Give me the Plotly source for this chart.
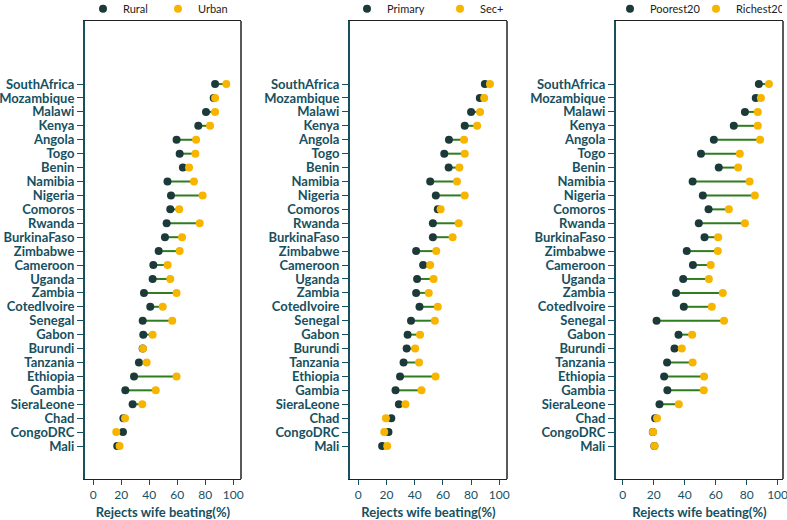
import plotly.graph_objects as go

countries = ["SouthAfrica", "Mozambique", "Malawi", "Kenya", "Angola", "Togo", "Benin",
             "Namibia", "Nigeria", "Comoros", "Rwanda", "BurkinaFaso", "Zimbabwe",
             "Cameroon", "Uganda", "Zambia", "CotedIvoire", "Senegal", "Gabon", "Burundi",
             "Tanzania", "Ethiopia", "Gambia", "SieraLeone", "Chad", "CongoDRC", "Mali"]

rural = [87, 86, 80.5, 75, 59.5, 61.7, 64, 53, 55.5, 55, 52.4, 51.2, 46.7, 42.9, 42.4,
         36.2, 40.7, 35.3, 35.7, 35.3, 32.6, 29.1, 22.9, 28.1, 21.5, 21.2, 17.1]
urban = [95, 87, 87, 83.4, 73.4, 72.9, 68.4, 71.9, 78.1, 61.4, 76, 63.4, 61.7, 53.1, 55,
         59.5, 49.6, 56.4, 42.4, 35.5, 38.1, 59.5, 44.6, 35, 22.7, 16.4, 18.8]

primary = [89.8, 86.2, 80, 75.5, 64.3, 61, 64.1, 51, 55, 56.4, 52.9, 52.9, 41, 46, 41.7,
           41, 43.4, 37.4, 35, 34.3, 32.1, 29.6, 26.4, 28.8, 23.4, 21.4, 16.9]
secplus = [93.4, 89.3, 86.4, 84.3, 75, 75.5, 71.7, 70, 75.5, 58.4, 71.2, 66.9, 55.3, 51,
           53.4, 50, 56.4, 54.3, 43.8, 40.3, 43.1, 54.8, 44.8, 33.4, 19.6, 18.4, 20.5]

poorest20 = [87.9, 85.9, 78.9, 71.7, 58.8, 50.5, 62.0, 45.1, 51.7, 55.4, 49.1, 52.8, 41.3,
             45.3, 39.0, 34.4, 39.4, 21.8, 36.0, 33.4, 28.6, 26.7, 28.8, 23.7, 20.9, 19.4, 20.4]
richest20 = [94.4, 89.2, 87.2, 87.2, 88.7, 75.6, 74.5, 81.9, 85.3, 68.5, 78.9, 61.6, 61.4,
             56.8, 55.6, 64.6, 57.5, 65.4, 44.8, 38.1, 45.1, 52.5, 52.3, 36.2, 22.1, 19.5, 20.5]

x_ticks = [0, 20, 40, 60, 80, 100]
x_title = "Rejects wife beating(%)"

panels = [
    ("Rural", rural, "Urban", urban),
    ("Primary", primary, "Sec+", secplus),
    ("Poorest20", poorest20, "Richest20", richest20),
]

DARK = "#1d3a3a"
YELLOW = "#f7b500"
GREEN = "#2e7d1f"
TEAL = "#17505f"
FONT = "Lato"

W, H = 787, 520
xdomains_px = [(85, 241), (350, 507), (616, 783)]
xranges = [[-5.9, 105.5], [-5.9, 105.5], [-4.4, 103.5]]
ytop, ybot = 21, 479
legend_marker_px = [103, 367, 630]
entry_w = [30, 48, 41]

fig = go.Figure()

for i, (n1, v1, n2, v2) in enumerate(panels):
    k = "" if i == 0 else str(i + 1)
    xa, ya = "x" + k, "y" + k
    leg = "legend" + k
    lx, ly = [], []
    for c, a, b in zip(countries, v1, v2):
        lx += [a, b, None]
        ly += [c, c, None]
    fig.add_trace(go.Scatter(x=lx, y=ly, mode="lines", line=dict(color=GREEN, width=2),
                             showlegend=False, xaxis=xa, yaxis=ya, hoverinfo="skip"))
    fig.add_trace(go.Scatter(x=v1, y=countries, mode="markers", name=n1,
                             marker=dict(color=DARK, size=8), xaxis=xa, yaxis=ya,
                             legend=leg))
    fig.add_trace(go.Scatter(x=v2, y=countries, mode="markers", name=n2,
                             marker=dict(color=YELLOW, size=8), xaxis=xa, yaxis=ya,
                             legend=leg))

    x0, x1 = xdomains_px[i]
    fig.update_layout(**{
        "xaxis" + k: dict(domain=[x0 / W, x1 / W], range=xranges[i], tickvals=x_ticks,
                          showgrid=False, zeroline=False, showline=True, mirror=True,
                          linecolor="#222222", linewidth=1, ticks="outside", ticklen=5,
                          tickcolor=TEAL, anchor=ya, automargin=False,
                          ticklabeloverflow="allow",
                          tickfont=dict(family=FONT, size=12, color=TEAL),
                          title=dict(text=x_title, standoff=6,
                                     font=dict(family=FONT, size=13, color=TEAL, weight="bold"))),
        "yaxis" + k: dict(domain=[1 - ybot / H, 1 - ytop / H], type="category",
                          categoryorder="array", categoryarray=countries[::-1],
                          tickmode="array", tickvals=countries, ticktext=countries,
                          range=[-2.37, 30.53], showgrid=False, zeroline=False,
                          showline=True, linecolor=TEAL, linewidth=2, ticks="outside",
                          ticklen=6, tickcolor=TEAL, anchor=xa, automargin=False,
                          tickfont=dict(family=FONT, size=13, color=TEAL, weight="bold")),
        leg: dict(orientation="h", x=(legend_marker_px[i] - 20) / W, xanchor="left",
                  y=1.011, yanchor="top", entrywidth=entry_w[i], entrywidthmode="pixels",
                  font=dict(family=FONT, size=11, color="#222222"),
                  bgcolor="rgba(0,0,0,0)"),
    })
    fig.add_shape(type="line", xref=xa + " domain", yref=ya + " domain",
                  x0=1, x1=1, y0=0, y1=1, line=dict(color="#222222", width=1.5))

fig.update_layout(width=W, height=H, margin=dict(l=0, r=0, t=0, b=0, autoexpand=False),
                  plot_bgcolor="white", paper_bgcolor="white",
                  font=dict(family=FONT))

fig.write_html("out.html", config={"displayModeBar": False},
               post_script="document.body.style.margin='0';document.body.style.padding='0';")
